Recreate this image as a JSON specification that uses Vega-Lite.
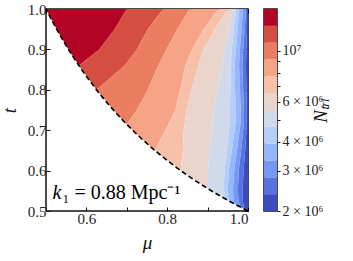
{
  "$schema": "https://vega.github.io/schema/vega-lite/v6.json",
  "padding": {"left": 0, "top": 1, "right": 3, "bottom": 3},
  "background": "white",
  "datasets": {
    "bands": [
      {"b":11,"t":1.0,"lo":0.5,"hi":0.70},{"b":11,"t":0.95,"lo":0.5263,"hi":0.67},{"b":11,"t":0.9,"lo":0.5556,"hi":0.632},{"b":11,"t":0.86,"lo":0.5814,"hi":0.5814},
      {"b":10,"t":1.0,"lo":0.70,"hi":0.79},{"b":10,"t":0.95,"lo":0.67,"hi":0.752},{"b":10,"t":0.9,"lo":0.632,"hi":0.725},{"b":10,"t":0.86,"lo":0.5814,"hi":0.695},{"b":10,"t":0.8,"lo":0.625,"hi":0.625},
      {"b":9,"t":1.0,"lo":0.79,"hi":0.855},{"b":9,"t":0.95,"lo":0.752,"hi":0.825},{"b":9,"t":0.9,"lo":0.725,"hi":0.798},{"b":9,"t":0.86,"lo":0.695,"hi":0.778},{"b":9,"t":0.8,"lo":0.625,"hi":0.752},{"b":9,"t":0.75,"lo":0.6667,"hi":0.725},{"b":9,"t":0.715,"lo":0.6993,"hi":0.6993},
      {"b":8,"t":1.0,"lo":0.855,"hi":0.926},{"b":8,"t":0.95,"lo":0.825,"hi":0.89},{"b":8,"t":0.9,"lo":0.798,"hi":0.862},{"b":8,"t":0.86,"lo":0.778,"hi":0.845},{"b":8,"t":0.8,"lo":0.752,"hi":0.832},{"b":8,"t":0.75,"lo":0.725,"hi":0.82},{"b":8,"t":0.715,"lo":0.6993,"hi":0.803},{"b":8,"t":0.7,"lo":0.7143,"hi":0.795},{"b":8,"t":0.65,"lo":0.7692,"hi":0.7692},
      {"b":7,"t":1.0,"lo":0.926,"hi":0.95},{"b":7,"t":0.95,"lo":0.89,"hi":0.918},{"b":7,"t":0.9,"lo":0.862,"hi":0.89},{"b":7,"t":0.86,"lo":0.845,"hi":0.877},{"b":7,"t":0.8,"lo":0.832,"hi":0.86},{"b":7,"t":0.75,"lo":0.82,"hi":0.848},{"b":7,"t":0.715,"lo":0.803,"hi":0.843},{"b":7,"t":0.7,"lo":0.795,"hi":0.841},{"b":7,"t":0.65,"lo":0.7692,"hi":0.839},{"b":7,"t":0.6,"lo":0.8333,"hi":0.8333},
      {"b":6,"t":1.0,"lo":0.95,"hi":0.963},{"b":6,"t":0.95,"lo":0.918,"hi":0.952},{"b":6,"t":0.9,"lo":0.89,"hi":0.942},{"b":6,"t":0.86,"lo":0.877,"hi":0.936},{"b":6,"t":0.8,"lo":0.86,"hi":0.925},{"b":6,"t":0.75,"lo":0.848,"hi":0.916},{"b":6,"t":0.715,"lo":0.843,"hi":0.912},{"b":6,"t":0.7,"lo":0.841,"hi":0.91},{"b":6,"t":0.65,"lo":0.839,"hi":0.905},{"b":6,"t":0.6,"lo":0.8333,"hi":0.901},{"b":6,"t":0.555,"lo":0.9009,"hi":0.9009},
      {"b":5,"t":1.0,"lo":0.963,"hi":0.971},{"b":5,"t":0.95,"lo":0.952,"hi":0.965},{"b":5,"t":0.9,"lo":0.942,"hi":0.96},{"b":5,"t":0.86,"lo":0.936,"hi":0.957},{"b":5,"t":0.8,"lo":0.925,"hi":0.957},{"b":5,"t":0.75,"lo":0.916,"hi":0.955},{"b":5,"t":0.715,"lo":0.912,"hi":0.955},{"b":5,"t":0.7,"lo":0.91,"hi":0.953},{"b":5,"t":0.65,"lo":0.905,"hi":0.948},{"b":5,"t":0.6,"lo":0.901,"hi":0.942},{"b":5,"t":0.555,"lo":0.9009,"hi":0.94},{"b":5,"t":0.53,"lo":0.9434,"hi":0.9434},
      {"b":4,"t":1.0,"lo":0.971,"hi":0.979},{"b":4,"t":0.95,"lo":0.965,"hi":0.974},{"b":4,"t":0.9,"lo":0.96,"hi":0.97},{"b":4,"t":0.86,"lo":0.957,"hi":0.967},{"b":4,"t":0.8,"lo":0.957,"hi":0.968},{"b":4,"t":0.75,"lo":0.955,"hi":0.97},{"b":4,"t":0.715,"lo":0.955,"hi":0.969},{"b":4,"t":0.7,"lo":0.953,"hi":0.967},{"b":4,"t":0.65,"lo":0.948,"hi":0.96},{"b":4,"t":0.6,"lo":0.942,"hi":0.953},{"b":4,"t":0.555,"lo":0.94,"hi":0.95},{"b":4,"t":0.53,"lo":0.9434,"hi":0.952},{"b":4,"t":0.52,"lo":0.9615,"hi":0.9615},
      {"b":3,"t":1.0,"lo":0.979,"hi":0.988},{"b":3,"t":0.95,"lo":0.974,"hi":0.984},{"b":3,"t":0.9,"lo":0.97,"hi":0.98},{"b":3,"t":0.86,"lo":0.967,"hi":0.978},{"b":3,"t":0.8,"lo":0.968,"hi":0.98},{"b":3,"t":0.75,"lo":0.97,"hi":0.982},{"b":3,"t":0.715,"lo":0.969,"hi":0.981},{"b":3,"t":0.7,"lo":0.967,"hi":0.979},{"b":3,"t":0.65,"lo":0.96,"hi":0.973},{"b":3,"t":0.6,"lo":0.953,"hi":0.966},{"b":3,"t":0.555,"lo":0.95,"hi":0.963},{"b":3,"t":0.53,"lo":0.952,"hi":0.964},{"b":3,"t":0.52,"lo":0.9615,"hi":0.966},{"b":3,"t":0.51,"lo":0.9804,"hi":0.9804},
      {"b":2,"t":1.0,"lo":0.988,"hi":0.995},{"b":2,"t":0.95,"lo":0.984,"hi":0.992},{"b":2,"t":0.9,"lo":0.98,"hi":0.988},{"b":2,"t":0.86,"lo":0.978,"hi":0.986},{"b":2,"t":0.8,"lo":0.98,"hi":0.988},{"b":2,"t":0.75,"lo":0.982,"hi":0.99},{"b":2,"t":0.715,"lo":0.981,"hi":0.99},{"b":2,"t":0.7,"lo":0.979,"hi":0.988},{"b":2,"t":0.65,"lo":0.973,"hi":0.983},{"b":2,"t":0.6,"lo":0.966,"hi":0.977},{"b":2,"t":0.555,"lo":0.963,"hi":0.975},{"b":2,"t":0.53,"lo":0.964,"hi":0.976},{"b":2,"t":0.52,"lo":0.966,"hi":0.978},{"b":2,"t":0.51,"lo":0.9804,"hi":0.982},{"b":2,"t":0.5,"lo":1.0,"hi":1.0},
      {"b":1,"t":1.0,"lo":0.995,"hi":0.999},{"b":1,"t":0.95,"lo":0.992,"hi":0.998},{"b":1,"t":0.9,"lo":0.988,"hi":0.996},{"b":1,"t":0.86,"lo":0.986,"hi":0.995},{"b":1,"t":0.8,"lo":0.988,"hi":0.996},{"b":1,"t":0.75,"lo":0.99,"hi":0.997},{"b":1,"t":0.715,"lo":0.99,"hi":0.997},{"b":1,"t":0.7,"lo":0.988,"hi":0.996},{"b":1,"t":0.65,"lo":0.983,"hi":0.993},{"b":1,"t":0.6,"lo":0.977,"hi":0.989},{"b":1,"t":0.555,"lo":0.975,"hi":0.987},{"b":1,"t":0.53,"lo":0.976,"hi":0.987},{"b":1,"t":0.52,"lo":0.978,"hi":0.988},{"b":1,"t":0.51,"lo":0.982,"hi":0.99},{"b":1,"t":0.5,"lo":1.0,"hi":1.0},
      {"b":0,"t":1.0,"lo":0.999,"hi":1.0},{"b":0,"t":0.95,"lo":0.998,"hi":1.0},{"b":0,"t":0.9,"lo":0.996,"hi":1.0},{"b":0,"t":0.86,"lo":0.995,"hi":1.0},{"b":0,"t":0.8,"lo":0.996,"hi":1.0},{"b":0,"t":0.75,"lo":0.997,"hi":1.0},{"b":0,"t":0.715,"lo":0.997,"hi":1.0},{"b":0,"t":0.7,"lo":0.996,"hi":1.0},{"b":0,"t":0.65,"lo":0.993,"hi":1.0},{"b":0,"t":0.6,"lo":0.989,"hi":1.0},{"b":0,"t":0.555,"lo":0.987,"hi":1.0},{"b":0,"t":0.53,"lo":0.987,"hi":1.0},{"b":0,"t":0.52,"lo":0.988,"hi":1.0},{"b":0,"t":0.51,"lo":0.99,"hi":1.0},{"b":0,"t":0.5,"lo":1.0,"hi":1.0}
    ],
    "edge": [
      {"t":1.0,"mu":0.5},{"t":0.975,"mu":0.5128},{"t":0.95,"mu":0.5263},{"t":0.925,"mu":0.5405},{"t":0.9,"mu":0.5556},{"t":0.875,"mu":0.5714},{"t":0.85,"mu":0.5882},{"t":0.825,"mu":0.6061},{"t":0.8,"mu":0.625},{"t":0.775,"mu":0.6452},{"t":0.75,"mu":0.6667},{"t":0.725,"mu":0.6897},{"t":0.7,"mu":0.7143},{"t":0.675,"mu":0.7407},{"t":0.65,"mu":0.7692},{"t":0.625,"mu":0.8},{"t":0.6,"mu":0.8333},{"t":0.575,"mu":0.8696},{"t":0.55,"mu":0.9091},{"t":0.525,"mu":0.9524},{"t":0.5,"mu":1.0}
    ],
    "note": [{"mu":0.516,"t":0.53,"k":"k","rest":"₁ = 0.88 Mpc⁻¹"}],
    "cbar": [
      {"b":0,"lo":2000000,"hi":2368000},{"b":1,"lo":2368000,"hi":2804000},{"b":2,"lo":2804000,"hi":3320000},{"b":3,"lo":3320000,"hi":3932000},{"b":4,"lo":3932000,"hi":4656000},{"b":5,"lo":4656000,"hi":5513000},{"b":6,"lo":5513000,"hi":6528000},{"b":7,"lo":6528000,"hi":7731000},{"b":8,"lo":7731000,"hi":9154000},{"b":9,"lo":9154000,"hi":10840000},{"b":10,"lo":10840000,"hi":12836000},{"b":11,"lo":12836000,"hi":15200000}
    ]
  },
  "hconcat": [
    {
      "width": 202,
      "height": 202,
      "layer": [
        {
          "data": {"name": "bands"},
          "mark": {"type": "area", "orient": "horizontal"},
          "encoding": {
            "y": {"field": "t", "type": "quantitative", "scale": {"domain": [0.5, 1], "nice": false, "zero": false},
                  "axis": {"orient": "left", "values": [0.5, 0.6, 0.7, 0.8, 0.9, 1.0], "format": ".1f", "title": "t", "titleFontStyle": "italic", "titlePadding": 7.5,
                           "labelFont": "Liberation Serif", "labelFontSize": 15, "labelPadding": 4}},
            "x": {"field": "lo", "type": "quantitative", "stack": null, "scale": {"domain": [0.5, 1], "nice": false, "zero": false},
                  "axis": {"orient": "bottom", "values": [0.5, 0.6, 0.7, 0.8, 0.9, 1.0], "format": ".1f", "labelExpr": "round(datum.value*10)%2==0 ? datum.label : ''", "title": "μ", "titleFontStyle": "italic", "titlePadding": 7,
                           "labelFont": "Liberation Serif", "labelFontSize": 15, "labelPadding": 4}},
            "x2": {"field": "hi"},
            "color": {"field": "b", "type": "nominal", "legend": null,
                      "scale": {"domain": [0,1,2,3,4,5,6,7,8,9,10,11], "range": ["#3b4cc0","#5674e0","#7598f6","#95b7ff","#b4cdfb","#d1daea","#e9d5cb","#f6c1a8","#f6a486","#eb7d61","#d44e41","#b40426"]}}
          }
        },
        {
          "data": {"name": "edge"},
          "mark": {"type": "line", "color": "black", "strokeWidth": 1.6, "strokeDash": [5, 3]},
          "encoding": {
            "x": {"field": "mu", "type": "quantitative", "scale": {"domain": [0.5, 1], "nice": false, "zero": false},
                  "axis": {"orient": "top", "values": [0.5, 0.6, 0.7, 0.8, 0.9, 1.0], "labels": false, "title": null}},
            "y": {"field": "t", "type": "quantitative", "scale": {"domain": [0.5, 1], "nice": false, "zero": false},
                  "axis": {"orient": "right", "values": [0.5, 0.6, 0.7, 0.8, 0.9, 1.0], "labels": false, "title": null}},
            "order": {"field": "t", "type": "quantitative"}
          }
        },
        {
          "data": {"name": "note"},
          "mark": {"type": "text", "align": "left", "baseline": "alphabetic", "font": "Liberation Serif", "fontSize": 20, "fontStyle": "italic", "color": "black"},
          "encoding": {
            "x": {"field": "mu", "type": "quantitative", "axis": null},
            "y": {"field": "t", "type": "quantitative", "axis": null},
            "text": {"field": "k"}
          }
        },
        {
          "data": {"name": "note"},
          "mark": {"type": "text", "align": "left", "baseline": "alphabetic", "dx": 10, "font": "Liberation Serif", "fontSize": 20, "color": "black"},
          "encoding": {
            "x": {"field": "mu", "type": "quantitative", "axis": null},
            "y": {"field": "t", "type": "quantitative", "axis": null},
            "text": {"field": "rest"}
          }
        }
      ],
      "resolve": {"axis": {"x": "independent", "y": "independent"}}
    },
    {
      "width": 13,
      "height": 202,
      "data": {"name": "cbar"},
      "mark": {"type": "rect"},
      "encoding": {
        "y": {"field": "lo", "type": "quantitative",
              "scale": {"type": "log", "domain": [2000000, 15200000], "nice": false, "zero": false},
              "axis": {"orient": "right", "values": [2000000, 3000000, 4000000, 5000000, 6000000, 7000000, 8000000, 9000000, 10000000],
                       "labelExpr": "datum.value==2000000 ? '2 × 10⁶' : datum.value==3000000 ? '3 × 10⁶' : datum.value==4000000 ? '4 × 10⁶' : datum.value==6000000 ? '6 × 10⁶' : datum.value==10000000 ? '10⁷' : ''",
                       "tickSize": 3, "labelPadding": 2, "labelFont": "Liberation Serif", "labelFontSize": 14,
                       "title": "Nₜᵣᵢ", "titleFontStyle": "italic", "titleAngle": 270, "titlePadding": 8}},
        "y2": {"field": "hi"},
        "color": {"field": "b", "type": "nominal", "legend": null,
                  "scale": {"domain": [0,1,2,3,4,5,6,7,8,9,10,11], "range": ["#3b4cc0","#5674e0","#7598f6","#95b7ff","#b4cdfb","#d1daea","#e9d5cb","#f6c1a8","#f6a486","#eb7d61","#d44e41","#b40426"]}}
      }
    }
  ],
  "spacing": 11,
  "resolve": {"scale": {"x": "independent", "y": "independent"}},
  "config": {
    "view": {"stroke": "#111", "strokeWidth": 1.5},
    "axis": {
      "grid": false, "domain": false, "tickColor": "#111", "tickSize": -4, "tickWidth": 1,
      "labelFont": "Liberation Serif", "labelFontSize": 15, "labelColor": "#222", "labelPadding": 4,
      "titleFont": "Liberation Serif", "titleFontSize": 19, "titleFontWeight": "normal", "titleColor": "#111"
    }
  }
}
